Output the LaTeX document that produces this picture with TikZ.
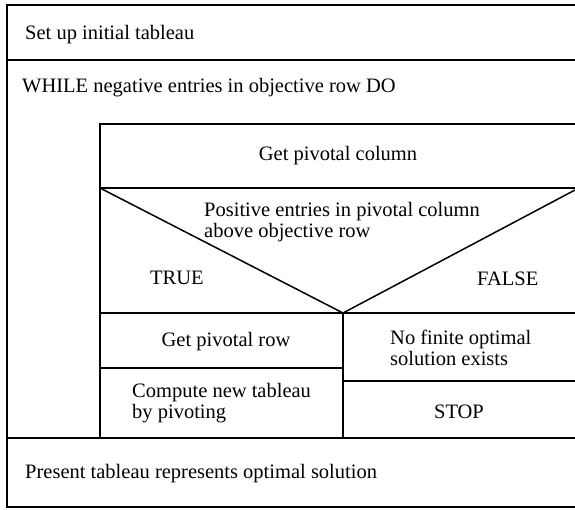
\documentclass[tikz,border=0pt]{standalone}
\usepackage{fontspec}
\setmainfont{Liberation Serif}
\begin{document}
\begin{tikzpicture}[x=1pt, y=-1pt,
  frame/.style={draw=black, line width=1.5pt, line join=miter},
  lbl/.style={font=\fontsize{20.5}{21}\selectfont, inner sep=0pt, align=left, anchor=base west},
  clbl/.style={font=\fontsize{20.5}{21}\selectfont, inner sep=0pt, anchor=base}]
\useasboundingbox (0,0) rectangle (575,510);

% outer sequence: set-up, loop, result
\draw[frame] (575,5) -- (7,5) -- (7,507) -- (575,507);
\draw[frame] (7,60) -- (575,60);
\draw[frame] (7,438) -- (575,438);

% loop body
\draw[frame] (575,124) -- (100,124) -- (100,438);
\draw[frame] (100,188) -- (575,188);
\coordinate (apex) at (343,313);
\draw[frame] (100,188) -- (apex) -- (575,190);
\draw[frame] (100,313) -- (575,313);
\draw[frame] (apex) -- (343,438);
\draw[frame] (100,368) -- (343,368);
\draw[frame] (343,381) -- (575,381);

% texts (multi-line nodes are placed by the baseline of their last line)
\node[lbl] (setup) at (25,40) {Set up initial tableau};
\node[lbl] (while) at (22,93) {WHILE negative entries in objective row DO};
\node[clbl] (pcol) at (338,161) {Get pivotal column};
\node[lbl] (cond) at (204,238) {Positive entries in pivotal column\\above objective row};
\node[lbl] (true) at (150,285) {TRUE};
\node[lbl] (false) at (477,286) {FALSE};
\node[clbl] (prow) at (226,346) {Get pivotal row};
\node[lbl] (pivot) at (132,418) {Compute new tableau\\by pivoting};
\node[lbl] (nofin) at (390,365) {No finite optimal\\solution exists};
\node[clbl] (stop) at (459,418) {STOP};
\node[lbl] (present) at (25,478) {Present tableau represents optimal solution};
\end{tikzpicture}
\end{document}
